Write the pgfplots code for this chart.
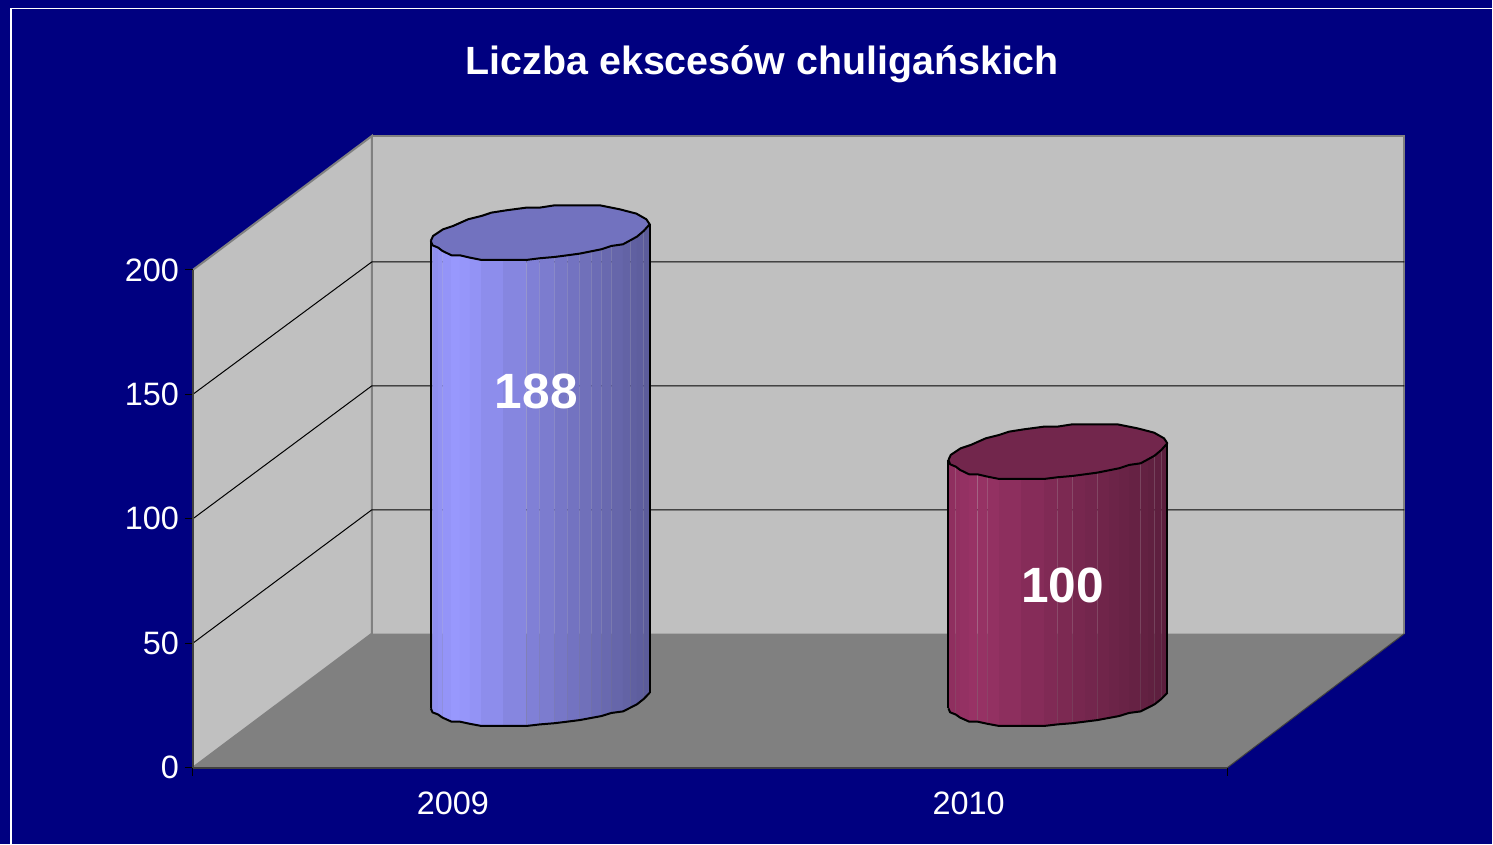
\documentclass[border=0pt]{standalone}
\usepackage{pgfplots}
\usepackage{pgfplotstable}
\usepackage{fontspec}
\setmainfont{Liberation Sans}
\pgfplotsset{compat=1.18}
\definecolor{navybg}{RGB}{0,0,128}
\definecolor{wallc}{RGB}{192,192,192}
\definecolor{floorc}{RGB}{128,128,128}
\pgfplotstableread{
dx dy br
-109.5 -3.08 0.93
-107.8 -4.82 0.94
-102.2 -5.76 0.955
-97.8 -7.10 0.973
-88.8 -8.84 0.996
-80.5 -8.84 0.984
-70.5 -9.77 0.961
-58.8 -10.71 0.927
-37.2 -10.71 0.88
-13.8 -10.71 0.842
-0.5 -10.04 0.813
14.5 -9.51 0.784
27.2 -8.84 0.758
39.5 -8.17 0.733
51.2 -7.23 0.71
61.2 -6.43 0.69
71.2 -5.09 0.667
82.8 -4.42 0.648
90.2 -2.81 0.633
96.8 -1.34 0.62
103.5 0.94 0.606
109.5 3.61 0
106.2 5.62 0
96.2 7.90 0
79.5 9.64 0
59.5 11.24 0
14.5 11.24 0
-0.5 10.31 0
-13.8 10.31 0
-33.8 9.24 0
-48.8 8.30 0
-58.8 6.96 0
-72.2 5.62 0
-87.2 2.94 0
-97.2 1.61 0
-107.2 -1.07 0
-109.5 -3.08 0
}\rim
\newcommand{\cylinder}[5]{%
  \pgfplotsforeachungrouped \i in {0,...,20}{%
    \pgfmathtruncatemacro\j{\i+1}%
    \pgfplotstablegetelem{\i}{dx}\of\rim \let\dxa\pgfplotsretval
    \pgfplotstablegetelem{\i}{dy}\of\rim \let\dya\pgfplotsretval
    \pgfplotstablegetelem{\i}{br}\of\rim \let\bra\pgfplotsretval
    \pgfplotstablegetelem{\j}{dx}\of\rim \let\dxb\pgfplotsretval
    \pgfplotstablegetelem{\j}{dy}\of\rim \let\dyb\pgfplotsretval
    \pgfmathsetmacro\xa{#1+\dxa}%
    \pgfmathsetmacro\xb{#1+\dxb}%
    \pgfmathsetmacro\yab{26.7+0.93*\dya}%
    \pgfmathsetmacro\ybb{26.7+0.93*\dyb}%
    \pgfmathsetmacro\yat{26.7+#2+\dya}%
    \pgfmathsetmacro\ybt{26.7+#2+\dyb}%
    \pgfmathtruncatemacro\cr{#3*\bra}%
    \pgfmathtruncatemacro\cg{#4*\bra}%
    \pgfmathtruncatemacro\cb{#5*\bra}%
    \edef\temp{\noexpand\addplot[forget plot,draw=none,fill={rgb,255:red,\cr;green,\cg;blue,\cb}] coordinates {(\xa,\yab) (\xb,\ybb) (\xb,\ybt) (\xa,\yat)};}%
    \temp
  }%
  \pgfmathsetmacro\xl{#1-109.5}%
  \pgfmathsetmacro\xr{#1+109.5}%
  \pgfmathsetmacro\ylb{26.7-0.93*3.08}%
  \pgfmathsetmacro\yrb{26.7+0.93*3.61}%
  \pgfmathsetmacro\ylt{26.7+#2-3.08}%
  \pgfmathsetmacro\yrt{26.7+#2+3.61}%
  \edef\temp{\noexpand\addplot[forget plot,black,line width=1pt] coordinates {(\xl,\ylt) (\xl,\ylb)};
    \noexpand\addplot[forget plot,black,line width=1pt] coordinates {(\xr,\yrt) (\xr,\yrb)};}%
  \temp
  \addplot[forget plot,black,line width=1pt,line join=round,skip coords between index={22}{37}]
    table[x expr=#1+\thisrow{dx},y expr=26.7+0.93*\thisrow{dy}] {\rim};
  \pgfmathtruncatemacro\tr{#3*0.75}%
  \pgfmathtruncatemacro\tg{#4*0.75}%
  \pgfmathtruncatemacro\tb{#5*0.75}%
  \edef\temp{\noexpand\addplot[forget plot,draw=black,line width=1pt,line join=round,fill={rgb,255:red,\tr;green,\tg;blue,\tb}]
    table[x expr=#1+\noexpand\thisrow{dx},y expr=26.7+#2+\noexpand\thisrow{dy}] {\noexpand\rim};}%
  \temp
}
\begin{document}
\begin{tikzpicture}[x=1pt,y=1pt]
\fill[navybg] (-96.5,-38) rectangle (650,384);
\draw[white,line width=0.75pt] (-91,-38) -- (-91,379.75) -- (650,379.75);
\begin{axis}[
  scale only axis,width=517.5pt,height=249pt,
  xmin=193,xmax=1228,ymin=0,ymax=200,clip=false,
  axis x line*=bottom,axis y line*=left,axis on top,
  x axis line style={draw=black!75,line width=1pt},
  y axis line style={draw=black!75,line width=0.9pt},
  xtick={453,969},xticklabels={2009,2010},
  ytick={0,50,100,150,200},
  xtick style={draw=none},
  ytick style={black,line width=0.6pt},
  tick align=outside,major tick length=4pt,
  /pgf/number format/assume math mode=true,
  tick label style={font=\fontsize{16.2}{18}\selectfont,text=white},
  xticklabel style={yshift=-4.7pt},
  yticklabel style={xshift=0.5pt},
  title={\textbf{Liczba ekscesów chuligańskich}},
  title style={at={(axis description cs:0.5505,1.39)},anchor=center,text=white,font=\fontsize{19.7}{23}\selectfont},
]
% side wall, back wall, floor
\addplot[forget plot,fill=wallc,draw=floorc,line width=1pt] coordinates {(193,0) (372,53.8) (372,253.8) (193,200)};
\addplot[forget plot,fill=wallc,draw=floorc,line width=1pt] coordinates {(372,53.8) (372,253.8) (1405,253.8) (1405,53.8)};
\addplot[forget plot,fill=floorc,draw=none] coordinates {(193,0) (372,53.8) (1405,53.8) (1228,0)};
\addplot[forget plot,black!75,line width=0.5pt] coordinates {(1228,0) (1405,53.8)};
% grid lines
\addplot[forget plot,black,line width=0.5pt] coordinates {(193,50) (372,103.6) (1405,103.6)};
\addplot[forget plot,black,line width=0.5pt] coordinates {(193,100) (372,153.4) (1405,153.4)};
\addplot[forget plot,black,line width=0.5pt] coordinates {(193,150) (372,203.2) (1405,203.2)};
% outer end ticks of the category axis
\addplot[forget plot,black,line width=0.5pt] coordinates {(193,0) (193,-3.2)};
\addplot[forget plot,black,line width=0.5pt] coordinates {(1228,0) (1228,-3.2)};
\cylinder{540.5}{188}{153}{153}{255}
\cylinder{1058.4}{100}{153}{51}{102}
\node[text=white,font=\bfseries\fontsize{24.8}{28}\selectfont] at (axis cs:536.5,151.2) {188};
\node[text=white,font=\bfseries\fontsize{24.8}{28}\selectfont] at (axis cs:1063,73.2) {100};
\end{axis}
\end{tikzpicture}
\end{document}
